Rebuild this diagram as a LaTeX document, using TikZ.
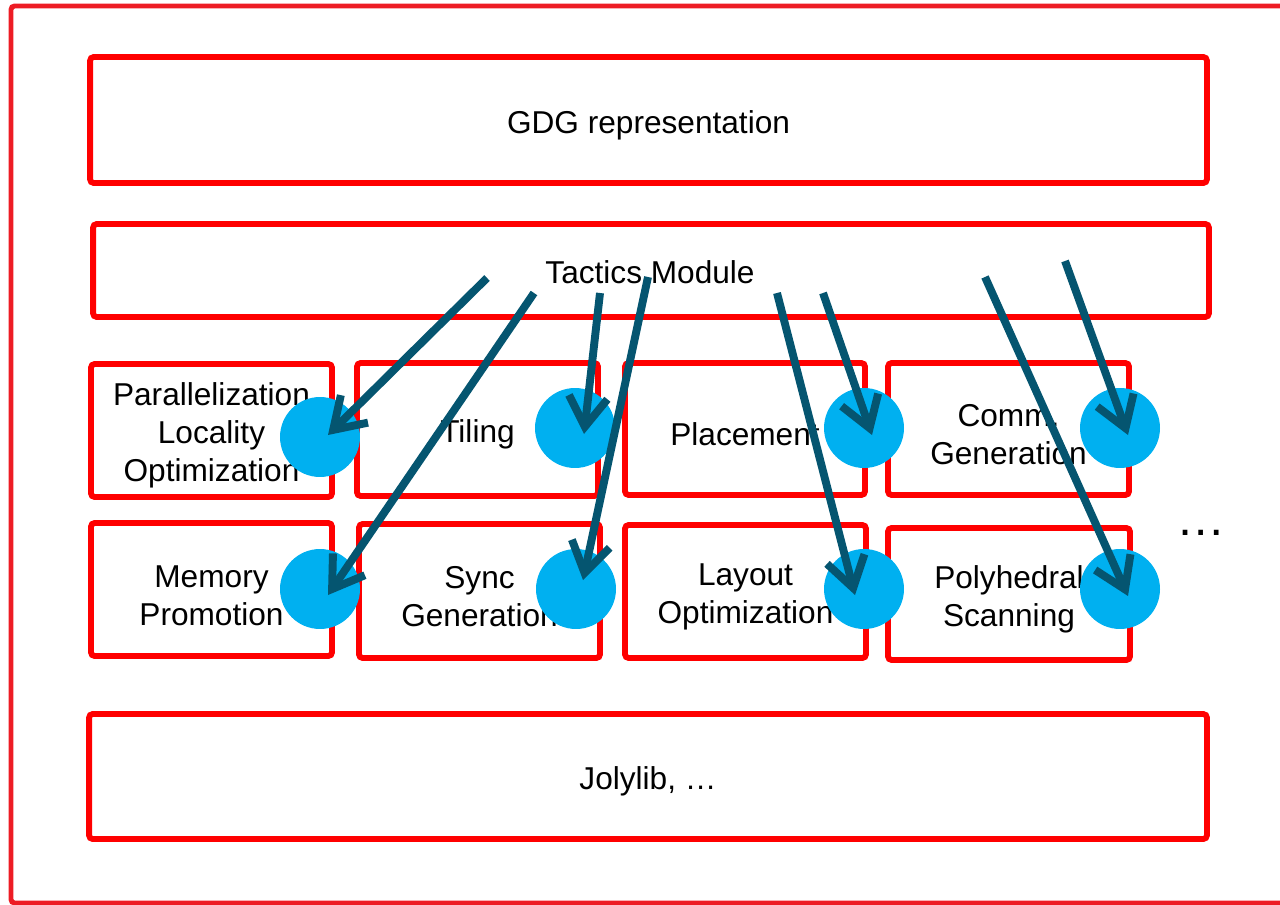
\documentclass[tikz,border=0pt]{standalone}
\usepackage{xcolor}
\usepackage{fontspec}
\setmainfont{Liberation Sans}
\usetikzlibrary{arrows.meta,calc}

\definecolor{boxred}{RGB}{255,0,0}
\definecolor{framered}{RGB}{237,28,36}
\definecolor{dotblue}{RGB}{0,176,240}
\definecolor{tacteal}{RGB}{5,85,112}
% pushes box texts a little down
\newcommand{\boxstrut}{\rule{0pt}{19pt}}

\begin{document}
\begin{tikzpicture}[x=0.02cm,y=-0.02cm,
  box/.style={draw=boxred,line width=3.3pt,rounded corners=2pt,inner sep=0pt,
    align=center,font=\fontsize{18}{21.6}\selectfont},
  wide/.style={box,minimum width=22.34cm,minimum height=2.52cm},
  small/.style={box,minimum width=4.82cm,minimum height=2.66cm},
  dot/.style={circle,fill=dotblue,minimum size=1.6cm,inner sep=0pt},
  tac/.style={draw=tacteal,line width=4.5pt,
    -{Straight Barb[length=17pt,width=22pt,line cap=butt]}}]
  \useasboundingbox (0,0) rectangle (1280,905);
  \clip (0,0) rectangle (1280,905);
  % outer frame
  \draw[framered,line width=2.8pt,rounded corners=2pt] (11,6) rectangle (1290,903);
  % layers
  \node[wide] (gdg) at (648.5,120) {\boxstrut GDG representation};
  \node[wide,minimum width=22.32cm,minimum height=1.86cm] (tactics) at (651,270.5) {};
  \node[font=\fontsize{18}{21.6}\selectfont] (tacname) at (650,272) {Tactics Module};
  \node[wide,minimum width=22.36cm,minimum height=2.5cm] (joly) at (648,776.5) {\boxstrut Jolylib, …};
  % tactics, first row
  \node[small] (par) at (211.5,430.5) {\boxstrut Parallelization\\Locality\\Optimization};
  \node[small] (tiling) at (477.5,429.5) {\boxstrut Tiling};
  \node[small,minimum width=4.8cm,minimum height=2.64cm] (place) at (745,429) {\boxstrut Placement};
  \node[small,minimum height=2.64cm] (comm) at (1008.5,429) {\boxstrut Comm.\\Generation};
  % tactics, second row
  \node[small] (mem) at (211.5,589.5) {\boxstrut Memory\\Promotion};
  \node[small,minimum height=2.68cm] (sync) at (479.5,591) {\boxstrut Sync\\Generation};
  \node[small] (layout) at (745.5,591.5) {\boxstrut Layout\\Optimization};
  \node[small,minimum width=4.84cm,minimum height=2.64cm] (poly) at (1009,594) {\boxstrut Polyhedral\\Scanning};
  \node[font=\fontsize{28}{30}\selectfont,anchor=base] (more) at (1201,535) {…};
  % hooks
  \node[dot] (d-par) at (320,437) {};
  \node[dot] (d-tiling) at (575,428) {};
  \node[dot] (d-place) at (864,428) {};
  \node[dot] (d-comm) at (1120,428) {};
  \node[dot] (d-mem) at (320,589) {};
  \node[dot] (d-sync) at (576,589) {};
  \node[dot] (d-layout) at (864,589) {};
  \node[dot] (d-poly) at (1120,589) {};
  % arrows from the tactics module
  \coordinate (s1) at (487,278);
  \coordinate (s2) at (534,293);
  \coordinate (s3) at (600,293);
  \coordinate (s4) at (648,277);
  \coordinate (s5) at (777,293);
  \coordinate (s6) at (823,293);
  \coordinate (s7) at (985,277);
  \coordinate (s8) at (1065,261);
  \draw[tac] (s1) -- ($(d-par)+(8,-2)$);
  \draw[tac] (s2) -- ($(d-mem)+(8,6)$);
  \draw[tac] (s3) -- ($(d-tiling)+(9,6)$);
  \draw[tac] (s4) -- ($(d-sync)+(7,-9)$);
  \draw[tac] (s5) -- ($(d-layout)+(-9,6)$);
  \draw[tac] (s6) -- ($(d-place)+(8,7)$);
  \draw[tac] (s7) -- ($(d-poly)+(8,7)$);
  \draw[tac] (s8) -- ($(d-comm)+(8,7)$);
\end{tikzpicture}
\end{document}
